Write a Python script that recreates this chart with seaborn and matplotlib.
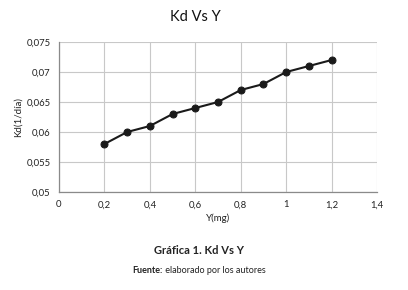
import matplotlib
matplotlib.use("Agg")
import matplotlib.pyplot as plt
import seaborn as sns
import pandas as pd
from matplotlib.ticker import FuncFormatter

y_mg = [0.2, 0.3, 0.4, 0.5, 0.6, 0.7, 0.8, 0.9, 1.0, 1.1, 1.2]
kd = [0.058, 0.060, 0.061, 0.063, 0.064, 0.065, 0.067, 0.068, 0.070, 0.071, 0.072]
x_ticks = [0, 0.2, 0.4, 0.6, 0.8, 1.0, 1.2, 1.4]
y_ticks = [0.05, 0.055, 0.06, 0.065, 0.07, 0.075]

sns.set_theme(style="whitegrid")
plt.rcParams['font.family'] = ['Lato', 'DejaVu Sans']

df = pd.DataFrame({"Y": y_mg, "Kd": kd})
fig = plt.figure(figsize=(4.08, 2.9), dpi=100)
ax = fig.add_axes([0.1446, 0.338, 0.7794, 0.517])
sns.lineplot(data=df, x="Y", y="Kd", ax=ax, color="#1a1a1a", marker="o",
             markersize=5, linewidth=1.5, markeredgecolor="#1a1a1a")
ax.set_xlim(0, 1.4)
ax.set_ylim(0.05, 0.075)
ax.set_xticks(x_ticks)
ax.set_yticks(y_ticks)

def fmt(v, pos):
    s = f"{v:.3f}".rstrip("0").rstrip(".")
    return s.replace(".", ",")

ax.xaxis.set_major_formatter(FuncFormatter(fmt))
ax.yaxis.set_major_formatter(FuncFormatter(fmt))
ax.tick_params(labelsize=6.8, colors="#222222", length=0, pad=6)
ax.grid(True, color="#c8c8c8", linewidth=0.8)
for s in ["top", "right"]:
    ax.spines[s].set_visible(False)
for s in ["left", "bottom"]:
    ax.spines[s].set_color("#8a8a8a")
    ax.spines[s].set_linewidth(0.9)
ax.set_xlabel("Y(mg)", fontsize=7, color="#222222", labelpad=3)
ax.set_ylabel("Kd(1/día)", fontsize=7, color="#222222", labelpad=3)

fig.text(0.48, 0.94, "Kd Vs Y", ha="center", va="center", fontsize=10.5, color="#111111")
fig.text(0.487, 0.137, "Gráfica 1. Kd Vs Y", ha="center", va="center", fontsize=8,
         fontweight="bold", color="#222222")

# Source line: bold "Fuente:" followed by regular text, centred as a whole
fig.canvas.draw()
r = fig.canvas.get_renderer()
t1 = fig.text(0, 0.068, "Fuente:", ha="left", va="center", fontsize=6.5,
              fontweight="bold", color="#222222")
t2 = fig.text(0, 0.068, " elaborado por los autores", ha="left", va="center",
              fontsize=6.5, color="#222222")
w1 = t1.get_window_extent(r).width / fig.bbox.width
w2 = t2.get_window_extent(r).width / fig.bbox.width
x0 = 0.488 - (w1 + w2) / 2
t1.set_x(x0)
t2.set_x(x0 + w1)
fig.savefig("out.png", dpi=100, facecolor="white")
